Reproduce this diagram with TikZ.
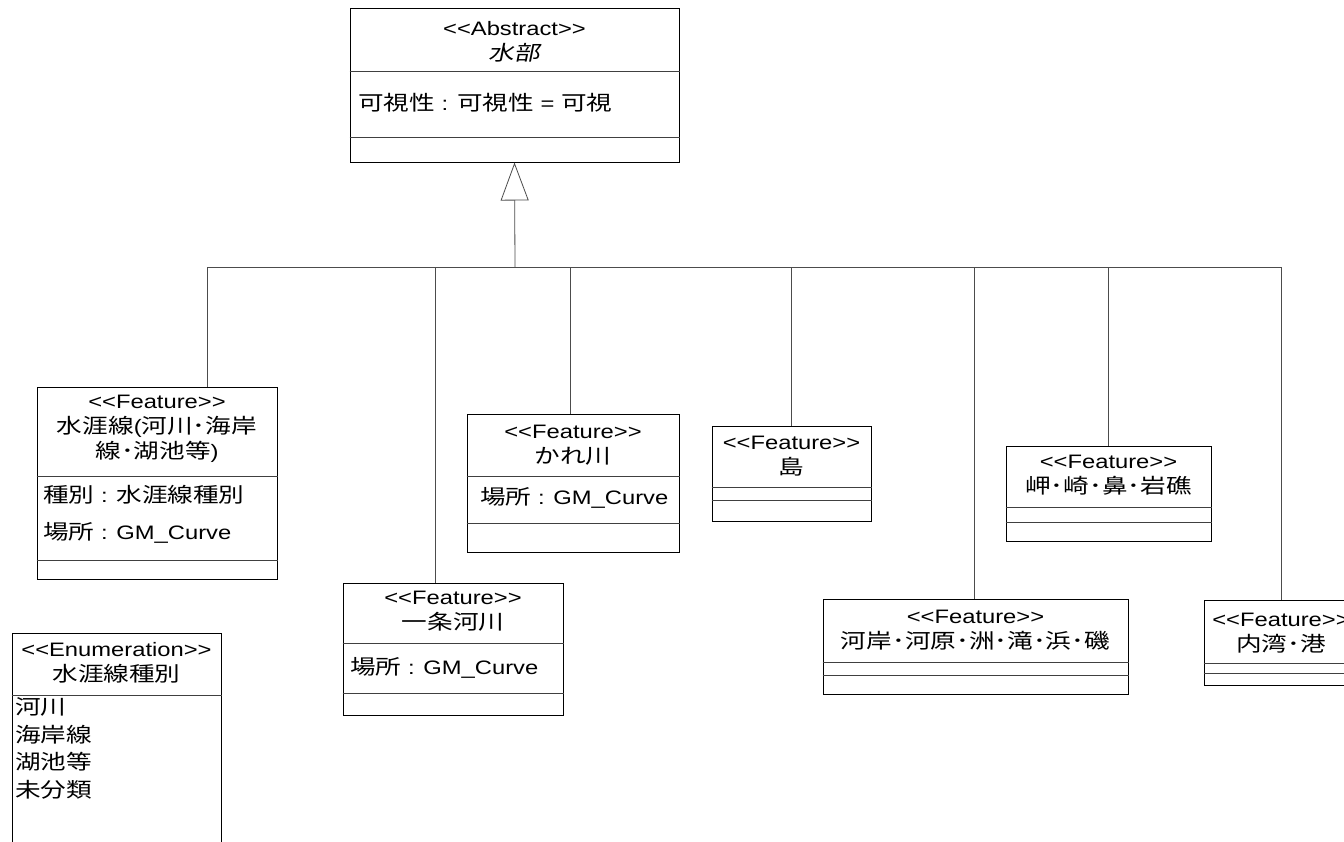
\documentclass[tikz,border=0pt]{standalone}
\usepackage{fontspec}
\setmainfont{Noto Sans CJK JP}[FakeStretch=1.25, Ligatures=TeXOff]
\newfontfamily\slantjp{Noto Sans CJK JP}[FakeStretch=1.25, FakeSlant=0.2, Ligatures=TeXOff]
\newfontfamily\lat{Liberation Sans}[FakeStretch=1.22, Scale=0.95, Ligatures=TeXOff]
\usetikzlibrary{arrows.meta}

\begin{document}
\begin{tikzpicture}[x=1pt, y=-1pt, font=\fontsize{20.5}{25}\selectfont]
\tikzstyle{cls}=[rectangle, draw, line width=1pt, inner sep=0pt]
\tikzstyle{title}=[align=center, inner sep=0pt]
\tikzstyle{attr}=[anchor=west, inner sep=0pt]
\tikzstyle{sep}=[draw=black!75, line width=0.8pt]
\tikzstyle{link}=[draw=black!70, line width=0.8pt]

\clip (0,0) rectangle (1344,841);
\fill[white] (0,0) rectangle (1344,841);

% abstract class
\node[cls, minimum width=329pt, minimum height=154pt] (wb) at (514.5,85) {};
\node[title] (wbn) at (514.5,41.5) {{\lat <<Abstract>>}\\{\slantjp 水部}};
\node[attr] (wba) at (358,103) {可視性{\lat\ : }可視性{\lat\ = }可視};
\path[sep] (wb.west |- 0,71) -- (wb.east |- 0,71);
\path[sep] (wb.west |- 0,137) -- (wb.east |- 0,137);

% features
\node[cls, minimum width=240pt, minimum height=192pt] (hwl) at (157,483) {};
\node[title] (hwln) at (157,428.5) {{\lat <<Feature>>}\\水涯線{\lat (}河川･海岸\\線･湖池等{\lat )}};
\node[attr] (hwla) at (43,495) {種別{\lat\ : }水涯線種別};
\node[attr] (hwlb) at (43,533) {場所{\lat\ : GM\_Curve}};
\path[sep] (hwl.west |- 0,476) -- (hwl.east |- 0,476);
\path[sep] (hwl.west |- 0,560) -- (hwl.east |- 0,560);

\node[cls, minimum width=220pt, minimum height=132pt] (ic) at (453,649) {};
\node[title] (icn) at (453,611) {{\lat <<Feature>>}\\一条河川};
\node[attr] (ica) at (350,668) {場所{\lat\ : GM\_Curve}};
\path[sep] (ic.west |- 0,643) -- (ic.east |- 0,643);
\path[sep] (ic.west |- 0,693) -- (ic.east |- 0,693);

\node[cls, minimum width=212pt, minimum height=138pt] (kr) at (573,483) {};
\node[title] (krn) at (573,445) {{\lat <<Feature>>}\\かれ川};
\node[attr] (kra) at (480,498) {場所{\lat\ : GM\_Curve}};
\path[sep] (kr.west |- 0,476) -- (kr.east |- 0,476);
\path[sep] (kr.west |- 0,523) -- (kr.east |- 0,523);

\node[cls, minimum width=159pt, minimum height=95pt] (sh) at (791.5,473.5) {};
\node[title] (shn) at (791.5,456.5) {{\lat <<Feature>>}\\島};
\path[sep] (sh.west |- 0,487) -- (sh.east |- 0,487);
\path[sep] (sh.west |- 0,500) -- (sh.east |- 0,500);

\node[cls, minimum width=305pt, minimum height=95pt] (kg) at (975.5,646.5) {};
\node[title] (kgn) at (975.5,630.5) {{\lat <<Feature>>}\\河岸･河原･洲･滝･浜･磯};
\path[sep] (kg.west |- 0,662) -- (kg.east |- 0,662);
\path[sep] (kg.west |- 0,675) -- (kg.east |- 0,675);

\node[cls, minimum width=205pt, minimum height=95pt] (mi) at (1108.5,493.5) {};
\node[title] (min) at (1108.5,475.5) {{\lat <<Feature>>}\\岬･崎･鼻･岩礁};
\path[sep] (mi.west |- 0,507) -- (mi.east |- 0,507);
\path[sep] (mi.west |- 0,522) -- (mi.east |- 0,522);

\node[cls, minimum width=154pt, minimum height=85pt] (nw) at (1281,642.5) {};
\node[title] (nwn) at (1281,633) {{\lat <<Feature>>}\\内湾･港};
\path[sep] (nw.west |- 0,663) -- (nw.east |- 0,663);
\path[sep] (nw.west |- 0,673) -- (nw.east |- 0,673);

% enumeration
\node[cls, minimum width=209pt, minimum height=240pt] (en) at (116.5,753) {};
\node[title] (enn) at (116.5,662.5) {{\lat <<Enumeration>>}\\水涯線種別};
\node[attr, align=left, font=\fontsize{20.5}{27.7}\selectfont] (enl) at (15,748.5) {河川\\海岸線\\湖池等\\未分類};
\path[sep] (en.west |- 0,695) -- (en.east |- 0,695);

% generalization
\coordinate (bus) at (515,267);
\coordinate (d1) at (207,267);
\coordinate (d2) at (435,267);
\coordinate (d3) at (570,267);
\coordinate (d4) at (791,267);
\coordinate (d5) at (974,267);
\coordinate (d6) at (1108,267);
\coordinate (d7) at (1281,267);

\draw[link, -{Triangle[open, length=38pt, width=28pt]}] (bus) -- (wb.south);
\draw[link] (d1) -- (d7);
\path[link]
(d1) edge (d1 |- hwl.north)
(d2) edge (d2 |- ic.north)
(d3) edge (d3 |- kr.north)
(d4) edge (d4 |- sh.north)
(d5) edge (d5 |- kg.north)
(d6) edge (d6 |- mi.north)
(d7) edge (d7 |- nw.north);

\end{tikzpicture}
\end{document}
